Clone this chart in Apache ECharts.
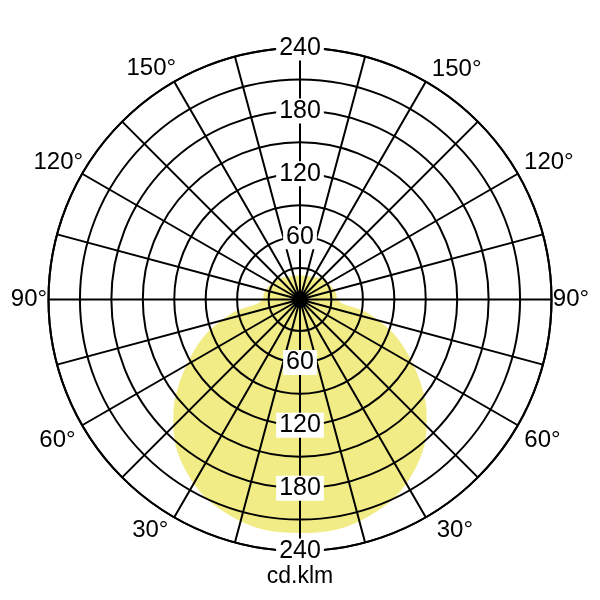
<!DOCTYPE html>
<html>
<head>
<meta charset="utf-8">
<script src="https://cdn.jsdelivr.net/npm/echarts@6/dist/echarts.min.js"></script>
<style>
html,body{margin:0;padding:0;background:#fff;}
#c{width:600px;height:600px;}
</style>
</head>
<body>
<div id="c"></div>
<script>
// gamma angles (0 = straight down) and intensity in cd/klm (symmetric distribution)
var gammaAngles = [0,5,10,15,20,25,30,35,40,45,50,55,60,65,70,75,80,85,90,95,100,105,110,115,120,125,130,135,140,145,150,155,160,165,170,175,180];
var intensity   = [223,223,222,219,215,210,203,194,184,171,157,141,125,110,95,78,61,40,36,35,35,34,33,32,31,30,29,28,27,26,25,24,24,23,23,23,23];

// radial scale
var radiusMax = 240;
var radiusStep = 30;
var radiusTickLabels = [60,120,180,240];

// angle labels (text, radius in cd/klm units, polar angle)
var angleLabelTexts  = ['150°','120°','90°','60°','30°','150°','120°','90°','60°','30°'];
var angleLabelRadius = [262,265,258.6,267.5,262.3,266,271,258.6,267.5,265];
var angleLabelAngle  = [147.2,119.5,90,59.9,33,214.2,241.2,270,300.1,326.1];

var unitLabel = 'cd.klm';

// build polar line data (left half: angle = gamma, right half: angle = 360 - gamma)
var curve = [];
for (var i = 0; i < gammaAngles.length; i++) curve.push([intensity[i], gammaAngles[i]]);
for (var j = gammaAngles.length - 2; j >= 0; j--) curve.push([intensity[j], 360 - gammaAngles[j]]);

var radLabelData = [];
radiusTickLabels.forEach(function (v) { radLabelData.push([v, 0]); radLabelData.push([v, 180]); });

var angLabelData = angleLabelTexts.map(function (t, k) { return { value: [angleLabelRadius[k], angleLabelAngle[k]], name: t }; });

var FONT = 'Liberation Sans, Arial, sans-serif';
var chart = echarts.init(document.getElementById('c'), null, { renderer: 'canvas' });
chart.setOption({
  animation: false,
  backgroundColor: '#ffffff',
  polar: { center: [300, 299.5], radius: 251.5 },
  angleAxis: {
    type: 'value', min: 0, max: 360, interval: 15, startAngle: 270, clockwise: true,
    z: 5,
    axisLine: { show: true, lineStyle: { color: '#000', width: 2 } },
    axisTick: { show: false },
    axisLabel: { show: false },
    splitLine: { show: true, lineStyle: { color: '#000', width: 2 } }
  },
  radiusAxis: {
    type: 'value', min: 0, max: radiusMax, interval: radiusStep,
    z: 5,
    axisLine: { show: false },
    axisTick: { show: false },
    axisLabel: { show: false },
    splitLine: { show: true, lineStyle: { color: '#000', width: 2 } }
  },
  graphic: [{
    type: 'text', left: 'center', top: 565, z: 20,
    style: { text: unitLabel, font: '23px ' + FONT, fill: '#000' }
  }],
  series: [{
    type: 'line', coordinateSystem: 'polar', data: curve,
    smooth: 0.3, symbol: 'none', z: 2,
    lineStyle: { width: 0 },
    areaStyle: { color: '#F2EC86', opacity: 1 }
  }, {
    type: 'scatter', coordinateSystem: 'polar', data: [[0, 0]],
    symbol: 'circle', symbolSize: 12, itemStyle: { color: '#000', opacity: 1 }, z: 8, silent: true
  }, {
    type: 'scatter', coordinateSystem: 'polar', data: radLabelData, clip: false,
    symbol: 'circle', symbolSize: 1, itemStyle: { color: 'rgba(0,0,0,0)', opacity: 1 }, z: 10, silent: true,
    label: {
      show: true, position: 'inside', color: '#000', opacity: 1, fontFamily: FONT, fontSize: 25,
      backgroundColor: '#fff', padding: [0, 3, 0, 3],
      formatter: function (p) { return String(p.value[0]); }
    }
  }, {
    type: 'scatter', coordinateSystem: 'polar', data: angLabelData, clip: false,
    symbol: 'circle', symbolSize: 1, itemStyle: { color: 'rgba(0,0,0,0)', opacity: 1 }, z: 10, silent: true,
    label: {
      show: true, position: 'inside', color: '#000', opacity: 1, fontFamily: FONT, fontSize: 24,
      formatter: function (p) { return p.name; }
    }
  }]
});
</script>
</body>
</html>
